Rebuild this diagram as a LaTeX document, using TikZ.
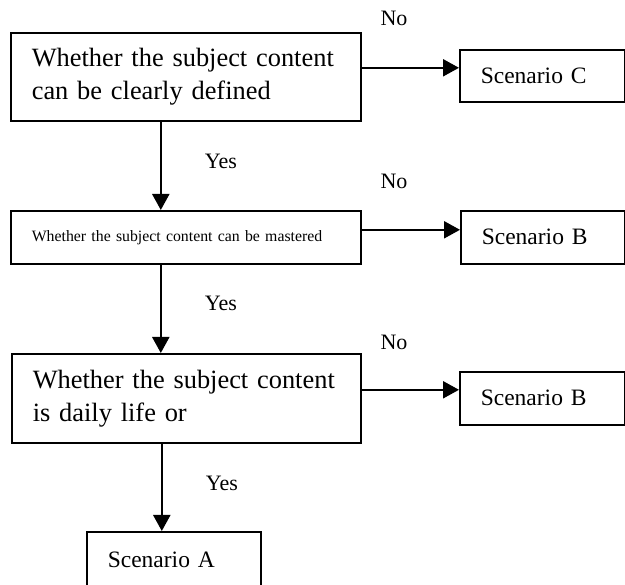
\documentclass[tikz,border=0pt]{standalone}
\usepackage{fontspec}
\setmainfont{Liberation Serif}
\usetikzlibrary{arrows.meta}
\begin{document}
\begin{tikzpicture}[x=1pt,y=-1pt,
  box/.style={draw, line width=1.6pt, anchor=north west, inner xsep=21pt, inner ysep=0pt, align=left},
  bigtxt/.style={font=\fontsize{26.4}{33}\selectfont},
  smalltxt/.style={font=\fontsize{15.8}{19}\selectfont},
  scentxt/.style={font=\fontsize{23.5}{28}\selectfont},
  lbl/.style={font=\fontsize{22}{26}\selectfont, inner sep=0pt},
  arr/.style={line width=2.2pt, -{Triangle[length=16pt,width=17pt]}}
]
\useasboundingbox (0,0) rectangle (625,585);

\node[box, bigtxt, text width=308pt, minimum height=88pt] (b1) at (10,32)
  {Whether the subject content\\can be clearly defined};
\node[box, scentxt, text width=122.5pt, minimum height=52pt] (c) at (459,49) {Scenario C};

\node[box, smalltxt, text width=308pt, minimum height=53pt] (b2) at (10,210)
  {Whether the subject content can be mastered};
\node[box, scentxt, text width=121.5pt, minimum height=53pt] (bb1) at (460,210) {Scenario B};

\node[box, bigtxt, text width=307pt, minimum height=89pt] (b3) at (11,353)
  {Whether the subject content\\is daily life or};
\node[box, scentxt, text width=122.5pt, minimum height=53pt] (bb2) at (459,371) {Scenario B};

\node[box, scentxt, text width=132pt, minimum height=56pt] (a) at (86,531) {Scenario A};

% labels
\node[lbl] (no1) at (394,18) {No};
\node[lbl] (no2) at (394,181) {No};
\node[lbl] (no3) at (394,342) {No};
\node[lbl] (yes1) at (221,161) {Yes};
\node[lbl] (yes2) at (221,303) {Yes};
\node[lbl] (yes3) at (222,483) {Yes};

% horizontal arrows
\draw[arr] ([yshift=9pt]b1.east) -- ([yshift=9pt]b1.east -| c.west);
\draw[arr] ([yshift=7.5pt]b2.east) -- ([yshift=7.5pt]b2.east -| bb1.west);
\draw[arr] ([yshift=8.5pt]b3.east) -- ([yshift=8.5pt]b3.east -| bb2.west);

% vertical arrows
\draw[arr] ([xshift=-25pt]b1.south) -- ([xshift=-25pt]b1.south |- b2.north);
\draw[arr] ([xshift=-25pt]b2.south) -- ([xshift=-25pt]b2.south |- b3.north);
\draw[arr] ([xshift=-24.5pt]b3.south) -- ([xshift=-24.5pt]b3.south |- a.north);
\end{tikzpicture}
\end{document}
